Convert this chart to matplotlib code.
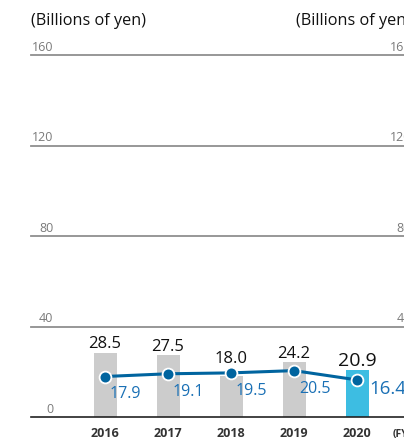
import matplotlib
matplotlib.use("Agg")
import matplotlib.pyplot as plt

years = ["2016", "2017", "2018", "2019", "2020"]
bar_values = [28.5, 27.5, 18.0, 24.2, 20.9]
line_values = [17.9, 19.1, 19.5, 20.5, 16.4]
yticks = [0, 40, 80, 120, 160]
unit_label = "(Billions of yen)"
fy_label = "(FY)"

plt.rcParams['font.family'] = ['Open Sans', 'DejaVu Sans']

W, H = 404, 442
fig = plt.figure(figsize=(W / 100, H / 100), dpi=100)
# axes spanning pixel x 31..411, y 55..417 (from top)
ax = fig.add_axes([31 / W, 25 / H, 380 / W, 362 / H])
ax.set_xlim(-74 / 63, 306 / 63)
ax.set_ylim(0, 160)
ax.axis('off')

px_per_unit = 362 / 160
gray_bar = "#cccccc"
hi_bar = "#3dbde2"
line_c = "#00649f"
text_blue = "#1a70b5"
grid_c = "#8f8f8f"

# grid lines
for t in yticks[1:]:
    ax.axhline(t, color=grid_c, lw=1.3, zorder=1, clip_on=False)
ax.axhline(0, color="#222222", lw=1.2, zorder=4, clip_on=False)

# tick labels left and right
for t in yticks:
    ax.annotate(str(t), xy=(0, t), xycoords=('axes fraction', 'data'),
                xytext=(16, 3), textcoords='offset points', ha='right', va='baseline',
                fontsize=9, color="#7a7a7a")
    ax.annotate(str(t), xy=(1, t), xycoords=('axes fraction', 'data'),
                xytext=(0, 3), textcoords='offset points', ha='right', va='baseline',
                fontsize=9, color="#7a7a7a", annotation_clip=False)

x = list(range(len(years)))
n = len(years)
colors = [gray_bar] * (n - 1) + [hi_bar]
ax.bar(x, bar_values, width=23 / 63, color=colors, zorder=2)
ax.plot(x, line_values, color=line_c, lw=2.2, zorder=5, marker='o', ms=8.5,
        markerfacecolor=line_c, markeredgecolor='white', markeredgewidth=1.3)

marker_r = 6 / px_per_unit
for i in range(n):
    last = i == n - 1
    top = max(bar_values[i], line_values[i] + marker_r)
    ax.annotate(f"{bar_values[i]:.1f}", xy=(x[i], top), xytext=(0, 3),
                textcoords='offset points', ha='center', va='baseline',
                fontsize=14 if last else 12, fontweight='medium' if last else 'normal',
                color="#111111", zorder=6)
    if last:
        ax.annotate(f"{line_values[i]:.1f}", xy=(x[i], line_values[i]), xytext=(8.6, -10),
                    textcoords='offset points', ha='left', va='baseline',
                    fontsize=13.5, color=text_blue, zorder=6, annotation_clip=False)
    else:
        ax.annotate(f"{line_values[i]:.1f}", xy=(x[i], line_values[i]), xytext=(3.6, -15.8),
                    textcoords='offset points', ha='left', va='baseline',
                    fontsize=11.5, color=text_blue, zorder=6)
    ax.annotate(years[i], xy=(x[i], 0), xytext=(0, -14.4), textcoords='offset points',
                ha='center', va='baseline', fontsize=9, fontweight='bold', color="#333333")

ax.annotate(fy_label, xy=(n - 1, 0), xytext=(26, -14.4), textcoords='offset points',
            ha='left', va='baseline', fontsize=7.5, fontweight='bold', color="#333333",
            annotation_clip=False)

fig.text(31 / W, 1 - 21 / H, unit_label, ha='left', va='center', fontsize=11.7, color="#111111")
fig.text(411 / W, 1 - 21 / H, unit_label, ha='right', va='center', fontsize=11.7, color="#111111")

fig.savefig("out.png", dpi=100)
